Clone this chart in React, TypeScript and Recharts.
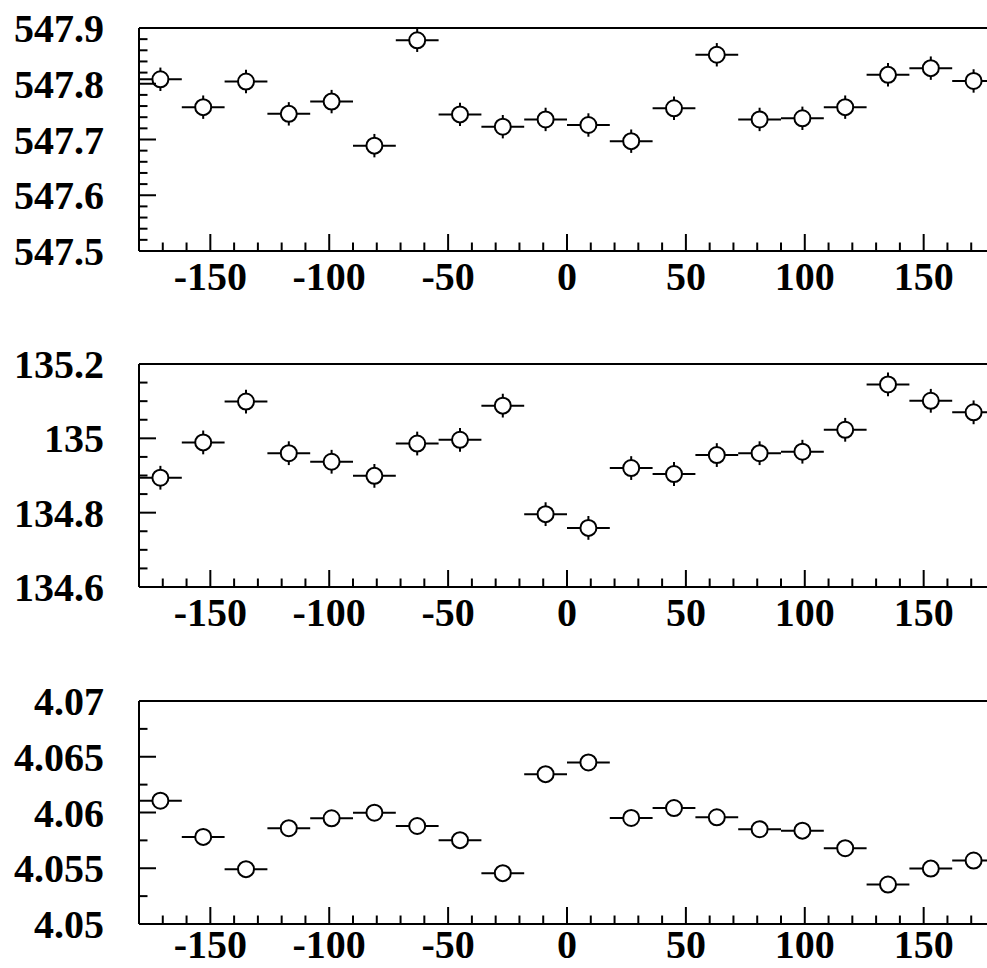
import React from 'react';
import { ScatterChart, Scatter, XAxis, YAxis, ErrorBar, ReferenceLine } from 'recharts';

// Bin centers (degrees), bins 18 degrees wide
const binCenters = [-171, -153, -135, -117, -99, -81, -63, -45, -27, -9, 9, 27, 45, 63, 81, 99, 117, 135, 153, 171];
const binHalfWidth = 9;

// Panel 1 values
const valuesA = [547.808, 547.758, 547.804, 547.746, 547.768, 547.689, 547.878, 547.745, 547.723, 547.736,
  547.726, 547.697, 547.756, 547.852, 547.736, 547.738, 547.758, 547.816, 547.828, 547.805];
const errorsA = [0.021, 0.021, 0.021, 0.021, 0.021, 0.021, 0.021, 0.021, 0.021, 0.021,
  0.021, 0.021, 0.021, 0.021, 0.021, 0.021, 0.021, 0.021, 0.021, 0.021];

// Panel 2 values
const valuesB = [134.894, 134.989, 135.099, 134.960, 134.937, 134.899, 134.986, 134.996, 135.088, 134.796,
  134.759, 134.920, 134.904, 134.955, 134.960, 134.964, 135.023, 135.145, 135.101, 135.070];
const errorsB = [0.032, 0.032, 0.032, 0.032, 0.032, 0.032, 0.032, 0.032, 0.032, 0.032,
  0.032, 0.032, 0.032, 0.032, 0.032, 0.032, 0.032, 0.032, 0.032, 0.032];

// Panel 3 values
const valuesC = [4.06106, 4.05781, 4.05492, 4.05859, 4.05948, 4.05998, 4.05879, 4.05752, 4.05456, 4.06344,
  4.06449, 4.05951, 4.0604, 4.05957, 4.0585, 4.05837, 4.0568, 4.05354, 4.05497, 4.05569];

// X axis ticks
const xMajorTicks = [-150, -100, -50, 0, 50, 100, 150];
const xMajorLabels = ['-150', '-100', '-50', '0', '50', '100', '150'];
const xMinorTicks = [-180, -170, -160, -140, -130, -120, -110, -90, -80, -70, -60, -40, -30, -20, -10,
  10, 20, 30, 40, 60, 70, 80, 90, 110, 120, 130, 140, 160, 170, 180];

// Y axis ticks
const yMajorA = [547.5, 547.6, 547.7, 547.8, 547.9];
const yLabelsA = ['547.5', '547.6', '547.7', '547.8', '547.9'];
const yMinorA = [547.52, 547.54, 547.56, 547.58, 547.62, 547.64, 547.66, 547.68, 547.72, 547.74, 547.76, 547.78,
  547.82, 547.84, 547.86, 547.88];

const yMajorB = [134.6, 134.8, 135.0, 135.2];
const yLabelsB = ['134.6', '134.8', '135', '135.2'];
const yMinorB = [134.65, 134.7, 134.75, 134.85, 134.9, 134.95, 135.05, 135.1, 135.15];

const yMajorC = [4.05, 4.055, 4.06, 4.065, 4.07];
const yLabelsC = ['4.05', '4.055', '4.06', '4.065', '4.07'];
const yMinorC = [4.0525, 4.0575, 4.0625, 4.0675];

const FONT = '"Liberation Serif", "Times New Roman", serif';
const CHART_W = 1010;
const X_AXIS_H = 60;
const CHART_H = 28 + 223 + X_AXIS_H;
const MAJOR_LEN = 17;
const MINOR_LEN = 8.5;

const findIdx = (arr: number[], v: number) => arr.findIndex((m) => Math.abs(m - v) < 1e-7);

const makeXTick = (labelOffset: number) => (props: any) => {
  const { x, y, payload } = props;
  const idx = findIdx(xMajorTicks, payload.value);
  const major = idx >= 0;
  return (
    <g>
      <line x1={x} x2={x} y1={y} y2={y - (major ? MAJOR_LEN : MINOR_LEN)} stroke="#000" strokeWidth={2} />
      {major && (
        <text x={x} y={y + labelOffset} textAnchor="middle" fontFamily={FONT} fontWeight="bold" fontSize={40} fill="#000">
          {xMajorLabels[idx]}
        </text>
      )}
    </g>
  );
};

const makeYTick = (majors: number[], labels: string[]) => (props: any) => {
  const { x, y, payload } = props;
  const idx = findIdx(majors, payload.value);
  const major = idx >= 0;
  return (
    <g>
      <line x1={x} x2={x + (major ? MAJOR_LEN : MINOR_LEN)} y1={y} y2={y} stroke="#000" strokeWidth={2} />
      {major && (
        <text x={x - 35} y={y + 14} textAnchor="end" fontFamily={FONT} fontWeight="bold" fontSize={40} fill="#000">
          {labels[idx]}
        </text>
      )}
    </g>
  );
};

const Marker = (props: any) => {
  const { cx, cy } = props;
  if (cx == null || cy == null) return null;
  return <circle cx={cx} cy={cy} r={8} fill="#fff" stroke="#000" strokeWidth={2} />;
};

type PanelProps = {
  top: number;
  values: number[];
  errors?: number[];
  yMajor: number[];
  yLabels: string[];
  yMinor: number[];
  labelOffset: number;
};

const Panel = ({ top, values, errors, yMajor, yLabels, yMinor, labelOffset }: PanelProps) => {
  const data = binCenters.map((x, i) => ({
    x,
    y: values[i],
    ex: binHalfWidth,
    ey: errors ? errors[i] : 0,
  }));
  const yDomain: [number, number] = [yMajor[0], yMajor[yMajor.length - 1]];
  const yTicks = [...yMajor, ...yMinor].sort((a, b) => a - b);
  const xTicks = [...xMajorTicks, ...xMinorTicks].sort((a, b) => a - b);
  const YTick = makeYTick(yMajor, yLabels);
  const XTick = makeXTick(labelOffset);
  return (
    <div style={{ position: 'absolute', left: 0, top, width: CHART_W, height: CHART_H }}>
      <ScatterChart width={CHART_W} height={CHART_H} margin={{ top: 28, right: 15, left: 0, bottom: 0 }}>
        <XAxis
          type="number"
          dataKey="x"
          domain={[-180, 180]}
          ticks={xTicks}
          interval={0}
          height={X_AXIS_H}
          tickSize={0}
          tickMargin={0}
          tickLine={false}
          axisLine={{ stroke: '#000', strokeWidth: 2 }}
          tick={<XTick />}
          allowDataOverflow
        />
        <YAxis
          type="number"
          dataKey="y"
          domain={yDomain}
          ticks={yTicks}
          interval={0}
          width={139}
          tickSize={0}
          tickMargin={0}
          tickLine={false}
          axisLine={{ stroke: '#000', strokeWidth: 2 }}
          tick={<YTick />}
          allowDataOverflow
        />
        <ReferenceLine y={yDomain[1]} stroke="#000" strokeWidth={2} />
        <ReferenceLine x={180} stroke="#000" strokeWidth={2} />
        <Scatter data={data} dataKey="y" shape={<Marker />} isAnimationActive={false}>
          <ErrorBar dataKey="ex" direction="x" width={0} stroke="#000" strokeWidth={2} isAnimationActive={false} />
          {errors && (
            <ErrorBar dataKey="ey" direction="y" width={0} stroke="#000" strokeWidth={2} isAnimationActive={false} />
          )}
        </Scatter>
      </ScatterChart>
    </div>
  );
};

export default function App() {
  return (
    <div style={{ position: 'absolute', left: 0, top: 0, width: 987, height: 968, overflow: 'hidden', background: '#fff' }}>
      <Panel top={0} values={valuesA} errors={errorsA} yMajor={yMajorA} yLabels={yLabelsA} yMinor={yMinorA} labelOffset={39} />
      <Panel top={336} values={valuesB} errors={errorsB} yMajor={yMajorB} yLabels={yLabelsB} yMinor={yMinorB} labelOffset={39} />
      <Panel top={673} values={valuesC} yMajor={yMajorC} yLabels={yLabelsC} yMinor={yMinorC} labelOffset={34} />
    </div>
  );
}
